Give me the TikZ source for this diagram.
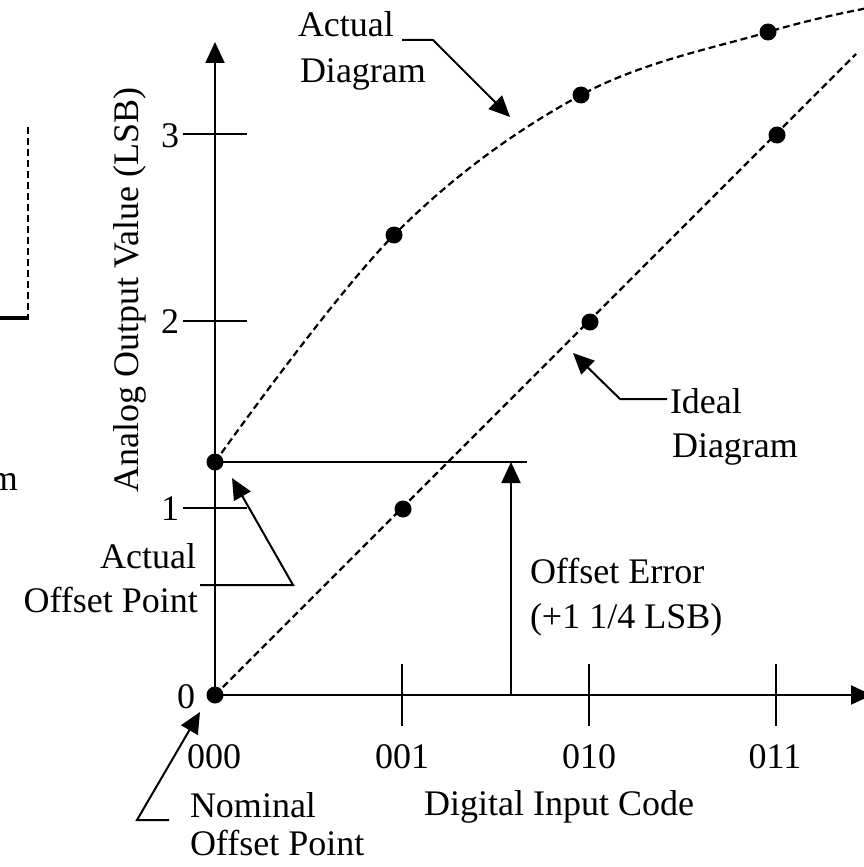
\documentclass[tikz,border=0pt]{standalone}
\usepackage{fontspec}
\setmainfont{Liberation Serif}
\usetikzlibrary{arrows.meta}
\begin{document}
\begin{tikzpicture}[x=1pt,y=-1pt,
  lbl/.style={font=\fontsize{36pt}{43pt}\selectfont, inner sep=0pt, outer sep=0pt},
  ln/.style={line width=2pt},
  dsh/.style={line width=2.2pt, dash pattern=on 7pt off 4pt},
  tip/.style={-{Triangle[length=21pt,width=19pt]}},
  dot/.style={circle, fill=black, inner sep=0pt, minimum size=17pt}]
\useasboundingbox (0,0) rectangle (864,867);
\clip (0,0) rectangle (864,867);
% coordinates
\coordinate (O) at (215,695);
\coordinate (ytop) at (215,42);
\coordinate (xend) at (872,695);
\coordinate (ytk3a) at (183,134); \coordinate (ytk3b) at (247,134);
\coordinate (ytk2a) at (183,321); \coordinate (ytk2b) at (247,321);
\coordinate (ytk1a) at (183,508); \coordinate (ytk1b) at (247,508);
\coordinate (xtk1a) at (402,664); \coordinate (xtk1b) at (402,726);
\coordinate (xtk2a) at (589,664); \coordinate (xtk2b) at (589,726);
\coordinate (xtk3a) at (776,664); \coordinate (xtk3b) at (776,726);
\coordinate (idealend) at (856,54);
\coordinate (offend) at (527,462);
\coordinate (offbot) at (511,695);
\coordinate (offtop) at (511,462);
% leader coordinates
\coordinate (ad1) at (402,40); \coordinate (ad2) at (433,40); \coordinate (ad3) at (510,117);
\coordinate (id1) at (667,399); \coordinate (id2) at (620,399); \coordinate (id3) at (573,353);
\coordinate (ao1) at (200,585); \coordinate (ao2) at (293,585); \coordinate (ao3) at (232,478);
\coordinate (no1) at (169,820); \coordinate (no2) at (137,820); \coordinate (no3) at (200,712);
% left fragment
\coordinate (lf1) at (28,127); \coordinate (lf2) at (28,318); \coordinate (lf3) at (0,318);
\draw[dsh] (lf1) -- (lf2);
\draw[line width=4.5pt] (lf3) -- ([xshift=1pt]lf2);
\node[lbl, anchor=base east] (mfrag) at (18,490) {m};
% axes
\draw[ln,tip] (O) -- (ytop);
\draw[ln,tip] (O) -- (xend);
\draw[ln] (ytk3a) -- (ytk3b);
\draw[ln] (ytk2a) -- (ytk2b);
\draw[ln] (ytk1a) -- (ytk1b);
\draw[ln] (xtk1a) -- (xtk1b);
\draw[ln] (xtk2a) -- (xtk2b);
\draw[ln] (xtk3a) -- (xtk3b);
% ideal line
\draw[dsh] (O) -- (idealend);
% actual curve
\draw[dsh] plot[smooth, tension=0.6] coordinates {(215,462) (394,235) (581,95) (768,32) (868,8)};
% offset error
\draw[ln] (215,462) -- (offend);
\draw[ln,tip] (offbot) -- (offtop);
% dots
\node[dot] (i0) at (215,695) {};
\node[dot] (i1) at (403,509) {};
\node[dot] (i2) at (590,322) {};
\node[dot] (i3) at (777,135) {};
\node[dot] (a0) at (215,462) {};
\node[dot] (a1) at (394,235) {};
\node[dot] (a2) at (581,95) {};
\node[dot] (a3) at (768,32) {};
% leaders
\draw[ln,tip] (ad1) -- (ad2) -- (ad3);
\draw[ln,tip] (id1) -- (id2) -- (id3);
\draw[ln,tip] (ao1) -- (ao2) -- (ao3);
\draw[ln,tip] (no1) -- (no2) -- (no3);
% texts
\node[lbl, anchor=base west] (tad1) at (298,37) {Actual};
\node[lbl, anchor=base west] (tad2) at (300,82) {Diagram};
\node[lbl, anchor=base west] (tid1) at (670,413) {Ideal};
\node[lbl, anchor=base west] (tid2) at (672,457) {Diagram};
\node[lbl, anchor=base west] (toe1) at (530,583) {Offset Error};
\node[lbl, anchor=base west] (toe2) at (530,628) {(+1 1/4 LSB)};
\node[lbl, anchor=base east] (tao1) at (196,568) {Actual};
\node[lbl, anchor=base east] (tao2) at (198,612) {Offset Point};
\node[lbl, anchor=base west] (tno1) at (190,817) {Nominal};
\node[lbl, anchor=base west] (tno2) at (190,855) {Offset Point};
\node[lbl, anchor=base] (c000) at (214,768) {000};
\node[lbl, anchor=base] (c001) at (402,768) {001};
\node[lbl, anchor=base] (c010) at (589,768) {010};
\node[lbl, anchor=base] (c011) at (775,768) {011};
\node[lbl, anchor=base] (xlab) at (559,815) {Digital Input Code};
\node[lbl, anchor=base] (y3) at (170,147) {3};
\node[lbl, anchor=base] (y2) at (170,333) {2};
\node[lbl, anchor=base] (y1) at (170,520) {1};
\node[lbl, anchor=base] (y0) at (186,708) {0};
\node[lbl, rotate=90, anchor=base] (ylab) at (138,290) {Analog Output Value (LSB)};
\end{tikzpicture}
\end{document}
